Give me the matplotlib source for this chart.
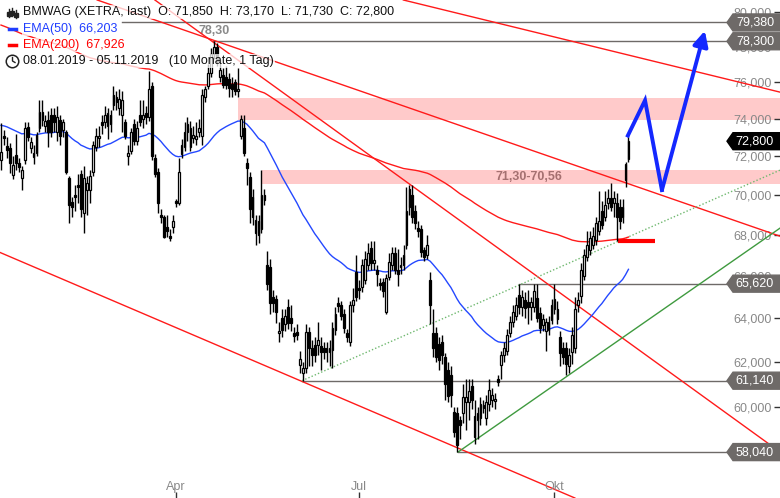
import numpy as np
import pandas as pd
import matplotlib
matplotlib.use("Agg")
import matplotlib.pyplot as plt
from matplotlib.patches import Polygon
from matplotlib.transforms import blended_transform_factory
from matplotlib.ticker import FixedLocator, NullLocator

plt.rcParams['font.family'] = ['Liberation Sans', 'DejaVu Sans']

# ---------------------------------------------------------------
#   Data: BMW daily candles 08.01.2019 - 05.11.2019 (Xetra)
# ---------------------------------------------------------------
dates = pd.bdate_range('2019-01-08', '2019-11-05')
dates = dates.drop(pd.to_datetime(['2019-04-19', '2019-04-22', '2019-05-01']))

opens = [71.81, 73.07, 72.54, 72.43, 71.02, 72.07, 71.65, 70.87, 71.81, 73.55,
         72.43, 71.96, 72.2, 73.5, 74.36, 73.6, 73.93, 74.2, 74.2, 73.3,
         73.93, 73.4, 73.28, 70.87, 69.64, 70.0, 70.5, 71.1, 69.1, 70.25,
         70.25, 71.2, 72.5, 72.95, 73.8, 73.8, 73.6, 74.2, 75.28, 75.2,
         74.6, 74.2, 73.8, 72.0, 72.3, 73.7, 72.8, 74.2, 74.0, 74.3,
         74.1, 75.8, 71.9, 71.2, 69.0, 68.9, 68.4, 67.95, 68.4, 69.7,
         69.6, 72.1, 72.5, 73.3, 72.5, 72.95, 72.9, 73.3, 73.1, 75.2,
         75.8, 76.5, 77.6, 78.0, 76.3, 76.4, 76.3, 76.2, 75.9, 76.0,
         75.5, 73.1, 73.5, 71.65, 70.9, 69.9, 68.75, 68.7, 68.3, 70.0,
         66.5, 66.4, 65.0, 64.9, 63.3, 64.0, 63.7, 64.5, 64.0, 63.3,
         63.35, 61.85, 61.5, 61.7, 63.35, 62.6, 62.75, 62.75, 62.7, 62.6,
         62.6, 62.45, 62.52, 63.45, 64.7, 64.6, 64.2, 63.3, 62.9, 64.6,
         66.2, 65.4, 65.45, 65.8, 66.5, 67.35, 66.6, 66.3, 65.65, 65.7,
         64.3, 65.95, 66.5, 67.1, 66.3, 66.4, 66.5, 67.5, 70.3, 70.0,
         69.2, 68.35, 68.3, 67.25, 67.0, 65.8, 63.3, 63.3, 62.8, 62.9,
         62.2, 61.6, 61.4, 59.75, 59.7, 59.4, 59.7, 60.2, 60.2, 60.9,
         59.6, 59.4, 59.5, 60.05, 59.5, 60.1, 60.3, 60.25, 61.2, 61.85,
         62.3, 62.5, 63.3, 63.8, 64.1, 65.1, 64.5, 64.85, 64.75, 64.5,
         64.5, 64.95, 64.25, 63.65, 63.4, 63.45, 63.9, 64.4, 64.4, 63.1,
         62.6, 62.6, 61.8, 62.45, 62.6, 64.6, 65.05, 66.0, 66.9, 67.25,
         67.5, 67.75, 68.2, 69.2, 68.9, 69.6, 69.85, 69.6, 69.6, 69.4,
         68.9, 70.77, 71.85]
highs = [73.77, 73.39, 73.0, 72.7, 72.0, 73.2, 71.9, 71.5, 73.8, 73.8,
         73.0, 72.6, 73.3, 75.0, 75.0, 74.2, 74.4, 74.6, 74.6, 74.7,
         74.2, 74.0, 73.4, 71.0, 69.9, 70.5, 71.1, 71.3, 71.5, 71.0,
         71.3, 72.8, 73.5, 73.6, 74.2, 74.7, 74.6, 74.5, 75.8, 75.5,
         75.6, 75.5, 74.0, 72.6, 73.5, 74.0, 73.9, 75.0, 75.0, 74.7,
         76.6, 76.0, 72.1, 71.4, 69.3, 69.0, 69.0, 68.3, 69.0, 69.8,
         71.9, 72.9, 73.8, 74.1, 73.9, 73.6, 73.8, 74.0, 75.6, 75.8,
         77.0, 77.9, 78.3, 78.2, 77.3, 76.8, 76.9, 76.5, 76.3, 76.2,
         76.8, 74.2, 74.2, 71.9, 71.2, 70.3, 69.0, 69.0, 71.3, 70.3,
         67.2, 66.8, 65.3, 65.1, 63.8, 64.4, 64.4, 64.9, 64.6, 63.6,
         63.7, 62.5, 62.0, 63.7, 63.6, 63.0, 63.1, 63.8, 63.1, 62.9,
         62.9, 63.0, 63.8, 64.5, 65.0, 64.8, 64.4, 63.5, 64.8, 65.4,
         67.0, 65.8, 66.8, 67.2, 67.6, 67.7, 67.7, 66.5, 65.9, 65.9,
         66.1, 67.1, 67.4, 67.4, 67.3, 66.9, 67.5, 70.4, 70.5, 70.5,
         69.5, 68.7, 68.5, 67.4, 68.0, 66.2, 64.4, 63.6, 63.1, 63.2,
         62.4, 62.0, 61.8, 60.0, 60.0, 59.6, 61.0, 61.2, 61.2, 61.2,
         60.3, 60.0, 60.4, 60.3, 60.5, 61.2, 60.8, 60.6, 61.4, 62.5,
         62.9, 63.5, 64.1, 64.6, 65.0, 65.62, 65.3, 65.2, 65.3, 65.0,
         65.6, 65.6, 64.5, 64.2, 64.0, 64.1, 64.9, 65.6, 64.8, 63.4,
         62.9, 62.9, 62.6, 63.6, 65.0, 65.2, 66.6, 67.3, 68.2, 68.2,
         68.4, 68.9, 70.2, 69.7, 70.2, 70.3, 70.6, 70.2, 70.1, 69.8,
         69.8, 71.7, 73.17]
lows = [71.28, 72.59, 71.9, 71.12, 70.8, 71.3, 71.2, 70.25, 71.6, 72.8,
        72.2, 71.6, 72.0, 73.3, 73.6, 73.3, 72.5, 73.0, 73.3, 72.8,
        72.6, 73.0, 71.1, 68.6, 68.9, 69.2, 69.6, 68.9, 68.1, 69.0,
        69.6, 71.0, 72.3, 72.5, 73.2, 73.5, 72.9, 73.3, 74.5, 74.5,
        74.2, 73.3, 72.9, 71.55, 72.1, 72.6, 72.6, 73.6, 73.5, 73.7,
        73.9, 71.8, 70.9, 69.1, 68.6, 67.85, 67.9, 67.7, 68.1, 69.4,
        69.5, 71.9, 72.3, 72.8, 72.3, 72.7, 72.6, 73.0, 72.6, 74.9,
        75.6, 76.3, 77.3, 76.9, 76.0, 75.7, 75.6, 75.2, 75.2, 75.3,
        75.2, 72.9, 72.0, 70.5, 68.6, 68.5, 67.5, 67.6, 68.1, 69.5,
        65.3, 64.2, 64.3, 63.75, 62.9, 63.1, 63.4, 63.5, 63.4, 62.9,
        63.0, 61.5, 61.14, 61.5, 61.8, 61.8, 62.0, 62.3, 61.6, 62.1,
        62.0, 61.8, 61.7, 63.2, 64.3, 63.9, 63.3, 62.9, 62.7, 64.3,
        64.8, 64.9, 65.2, 65.6, 66.3, 66.3, 66.3, 65.5, 65.3, 65.0,
        64.2, 65.8, 66.3, 66.1, 65.5, 66.1, 66.3, 67.3, 69.0, 68.6,
        68.3, 67.9, 66.9, 66.7, 66.8, 63.7, 62.2, 62.0, 61.6, 61.9,
        60.3, 60.2, 60.0, 58.7, 58.04, 58.6, 59.3, 59.0, 59.4, 59.9,
        58.4, 58.6, 59.2, 59.7, 59.2, 59.8, 60.0, 59.9, 60.9, 61.2,
        62.0, 62.3, 63.1, 63.6, 63.9, 64.2, 64.1, 64.0, 63.7, 63.9,
        64.3, 63.8, 63.3, 63.4, 62.5, 63.2, 63.7, 64.2, 63.7, 61.8,
        61.9, 61.4, 61.5, 61.9, 62.4, 64.3, 64.7, 65.8, 66.7, 67.0,
        67.3, 67.5, 68.0, 68.3, 68.7, 69.3, 69.2, 68.9, 67.7, 68.3,
        68.6, 70.4, 71.73]
closes = [72.23, 72.96, 72.33, 71.65, 71.54, 71.65, 71.44, 71.28, 73.5, 73.0,
          72.75, 72.17, 73.12, 74.36, 73.93, 73.9, 73.3, 73.3, 73.8, 74.1,
          73.1, 73.8, 71.18, 69.49, 69.4, 69.9, 70.4, 69.3, 70.87, 70.6,
          71.0, 72.6, 73.1, 73.05, 73.65, 74.2, 74.3, 73.7, 74.74, 74.9,
          75.1, 75.0, 73.1, 72.15, 73.3, 72.8, 73.5, 73.8, 74.2, 74.1,
          75.6, 72.0, 71.1, 69.6, 68.9, 67.9, 68.2, 67.85, 68.7, 69.6,
          71.2, 72.6, 73.3, 73.7, 73.5, 73.15, 73.1, 73.5, 75.3, 75.6,
          76.5, 77.6, 78.0, 77.2, 76.7, 75.85, 75.85, 75.7, 75.6, 75.5,
          75.6, 74.0, 72.2, 71.4, 69.3, 68.9, 68.1, 68.0, 70.0, 69.75,
          65.6, 64.7, 64.7, 64.3, 63.4, 63.45, 64.1, 63.75, 63.75, 63.15,
          63.2, 62.1, 61.7, 63.35, 62.6, 62.3, 62.3, 63.0, 62.45, 62.45,
          62.45, 62.6, 63.55, 64.2, 64.55, 64.1, 63.55, 63.1, 64.6, 64.85,
          65.0, 65.3, 66.5, 66.8, 67.1, 66.6, 66.75, 66.1, 65.55, 65.25,
          65.9, 66.65, 67.1, 66.3, 66.1, 66.5, 67.0, 69.2, 69.4, 68.9,
          68.6, 68.2, 67.15, 66.9, 67.5, 64.6, 62.6, 62.2, 62.05, 62.3,
          61.0, 60.45, 60.5, 58.9, 58.35, 59.2, 60.4, 60.4, 60.7, 60.3,
          58.7, 59.7, 60.1, 59.95, 60.2, 60.72, 60.5, 60.35, 61.1, 62.3,
          62.6, 63.2, 63.8, 64.3, 64.6, 64.5, 65.0, 64.45, 64.5, 64.75,
          65.25, 64.0, 63.55, 63.95, 63.8, 63.8, 64.6, 64.9, 63.95, 62.4,
          62.2, 61.9, 62.3, 63.2, 64.4, 64.85, 66.3, 67.0, 67.5, 67.85,
          67.95, 68.6, 68.7, 68.5, 69.5, 69.85, 69.4, 69.85, 68.9, 68.7,
          69.4, 71.6, 72.8]

ema50_start = 73.7     # EMA values on 07.01.2019
ema200_start = 79.3

# resistance zones, horizontal levels, marks
zones = [(73.95, 75.15, 80), (70.56, 71.30, 88.2)]          # (low, high, start index)
levels = [79.38, 78.30, 65.62, 61.14, 58.04]
level_start = [41, 71.6, 175.0, 101.7, 154.4]
last_close = 72.80
red_lines = [((71.6, 78.37), (263.2, 67.93)),
             ((80.1, 77.23), (222.6, 61.84)),
             ((80.7, 62.30), (175.3, 57.10)),
             ((232.8, 76.67), (263.2, 75.45))]
green_line = [(154.4, 58.04), (263.2, 68.33)]
green_dotted = [(101.7, 61.14), (263.2, 71.28)]
ema200_mark = [(208.5, 67.67), (221.0, 67.67)]
path_x = [211.8, 217.6, 223.3, 237.8]
path_y = [73.1, 75.0, 70.25, 78.9]

yticks = [58, 60, 62, 64, 66, 68, 70, 72, 74, 76, 78, 80]
month_names = {4: 'Apr', 7: 'Jul', 10: 'Okt'}

# ---------------------------------------------------------------
o = np.array(opens); h = np.array(highs); l = np.array(lows); c = np.array(closes)
x = np.arange(len(c))

ema50 = pd.Series(np.r_[ema50_start, c]).ewm(span=50, adjust=False).mean().values[1:]
ema200 = pd.Series(np.r_[ema200_start, c]).ewm(span=200, adjust=False).mean().values[1:]

W, H = 780, 498
fig = plt.figure(figsize=(W / 100, H / 100), dpi=100)
ax = fig.add_axes([0, 0, 1, 1])
ax.set_yscale('log')
ax.set_xlim(-0.34, 263.2)
ax.set_ylim(56.13, 80.69)
for s in ax.spines.values():
    s.set_visible(False)

bt = blended_transform_factory(ax.transAxes, ax.transData)

# zones
for lo, hi, st in zones:
    ax.axhspan(lo, hi, xmin=(st + 0.34) / 263.54, xmax=1, color='#ffcaca', lw=0, zorder=1)
ax.text(178.5, 70.95, '71,30-70,56', color='#a57070', fontsize=9, fontweight='bold',
        ha='center', va='center', zorder=2)

# horizontal levels
for lv, st in zip(levels, level_start):
    ax.plot([st, 263.2], [lv, lv], color='#6e6a68', lw=1, zorder=2)
ax.text(72, 78.9, '78,30', color='#8a8a8a', fontsize=9, fontweight='bold',
        ha='center', va='center', zorder=2)

# trend lines
for p1, p2 in red_lines:
    ax.axline(p1, p2, color='#ff1a1a', lw=1, zorder=2)
ax.plot(*zip(*green_line), color='#3f9a3f', lw=1, zorder=2)
ax.plot(*zip(*green_dotted), color='#6fb86f', lw=1, ls=(0, (1, 1.5)), zorder=2)

# EMAs
ax.plot(x, ema200, color='#ff1a1a', lw=1, zorder=3)
ax.plot(x, ema50, color='#2448ff', lw=1, zorder=3)
ax.plot(*zip(*ema200_mark), color='#ff0000', lw=3, zorder=3, solid_capstyle='butt')

# candles
up = c >= o
ax.vlines(x, l, h, color='black', lw=1, zorder=4)
ax.bar(x[up], c[up] - o[up], bottom=o[up], width=0.62, color='white',
       edgecolor='black', lw=0.9, zorder=5)
ax.bar(x[~up], o[~up] - c[~up], bottom=c[~up], width=0.62, color='black',
       edgecolor='black', lw=0.9, zorder=5)

# projected path
ax.plot(path_x[:3], path_y[:3], color='#1428ff', lw=2.8, zorder=6, solid_joinstyle='miter')
ax.annotate('', xy=(path_x[3], path_y[3]), xytext=(path_x[2], path_y[2]),
            arrowprops=dict(arrowstyle='-|>,head_length=0.9,head_width=0.45', color='#1428ff',
                            lw=2.8, shrinkA=0, shrinkB=0), zorder=6)

# y axis
ax.yaxis.tick_right()
ax.yaxis.set_major_locator(FixedLocator(yticks))
ax.yaxis.set_minor_locator(NullLocator())
ax.set_yticklabels(['%d,000' % v for v in yticks])
ax.tick_params(axis='y', direction='in', length=4, width=1, color='#333333',
               pad=-6, labelsize=9, labelcolor='#888888')
for t in ax.get_yticklabels():
    t.set_ha('right')

# x axis: first trading day of Apr, Jul, Okt
mpos, mlab = [], []
for m, name in month_names.items():
    mpos.append(int(np.argmax(dates.month == m)))
    mlab.append(name)
ax.xaxis.set_major_locator(FixedLocator(mpos))
ax.xaxis.set_minor_locator(NullLocator())
ax.set_xticklabels([])
ax.tick_params(axis='x', direction='in', length=4, width=1, color='#333333')
for p, name in zip(mpos, mlab):
    ax.text(p, 0.011, name, transform=blended_transform_factory(ax.transData, ax.transAxes),
            ha='center', va='bottom', fontsize=9, color='#888888')

# price tags on the right
f = np.exp(8.5 / 1372)
x0, x1 = 727 / W, 733 / W
for lv in levels + [last_close]:
    col = 'black' if lv == last_close else '#6e6a68'
    poly = Polygon([(x0, lv), (x1, lv * f), (1.0, lv * f), (1.0, lv / f), (x1, lv / f)],
                   closed=True, transform=bt, color=col, zorder=8, clip_on=False)
    ax.add_patch(poly)
    ax.text(774 / W, lv, ('%.3f' % lv).replace('.', ','), transform=bt, color='white',
            fontsize=9, ha='right', va='center', zorder=9)

# header / legend
def px(xp, yp):
    return xp / W, 1 - yp / H

bg = dict(facecolor='white', alpha=0.75, edgecolor='none', pad=1)
ax.text(*px(23, 12), 'BMWAG (XETRA, last)  O: 71,850  H: 73,170  L: 71,730  C: 72,800',
        transform=ax.transAxes, fontsize=9, va='center', ha='left', color='#111111',
        bbox=bg, zorder=10)
ax.text(*px(23, 29), 'EMA(50)  66,203', transform=ax.transAxes, fontsize=9,
        va='center', color='#1f3dff', bbox=bg, zorder=10)
ax.text(*px(23, 45), 'EMA(200)  67,926', transform=ax.transAxes, fontsize=9,
        va='center', color='#ff0000', bbox=bg, zorder=10)
ax.text(*px(23, 61), '08.01.2019 - 05.11.2019   (10 Monate, 1 Tag)', transform=ax.transAxes,
        fontsize=9, va='center', color='#111111', bbox=bg, zorder=10)
ax.plot([px(9, 0)[0], px(16, 0)[0]], [px(0, 29)[1]] * 2, transform=ax.transAxes,
        color='#1f3dff', lw=2.5, zorder=10)
ax.plot([px(9, 0)[0], px(16, 0)[0]], [px(0, 45)[1]] * 2, transform=ax.transAxes,
        color='#ff0000', lw=2.5, zorder=10)
# small candle icon
for xi, (ya, yb) in zip([9, 12.5, 16], [(9, 17), (8, 16), (10, 18)]):
    ax.plot([px(xi, 0)[0]] * 2, [px(0, ya)[1], px(0, yb)[1]], transform=ax.transAxes,
            color='#222222', lw=1, zorder=10)
    ax.plot([px(xi, 0)[0]], [px(0, (ya + yb) / 2 + 1)[1]], transform=ax.transAxes,
            marker='s', ms=2.5, color='#222222', zorder=10)
# clock icon
ax.plot(*px(12.5, 61), transform=ax.transAxes, marker='o', ms=9, mfc='white',
        mec='#222222', mew=1.1, zorder=10)
ax.plot([px(12.5, 0)[0], px(12.5, 0)[0], px(15, 0)[0]], [px(0, 57.5)[1], px(0, 61)[1], px(0, 62.5)[1]],
        transform=ax.transAxes, color='#222222', lw=1, zorder=11)

fig.savefig('out.png', dpi=100)
